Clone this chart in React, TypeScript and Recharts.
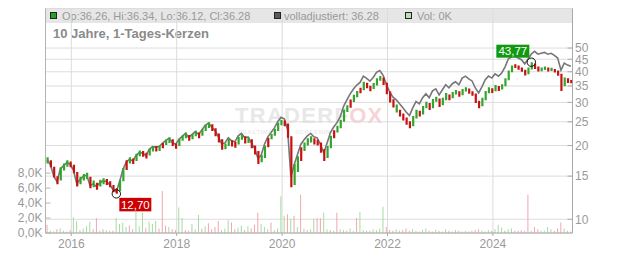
import React from "react";
import { ComposedChart, Bar, Line, XAxis, YAxis, CartesianGrid, Cell, ReferenceDot } from "recharts";

// ---- data ----
const periodStart = 2015.51; // mid 2015
const periodStep = 1 / 16; // one candle ~ 3 weeks
const yearTicks = [2016, 2018, 2020, 2022, 2024];
const priceTicks = [10, 15, 20, 25, 30, 35, 40, 45, 50];
const volumeTicks = [0, 2000, 4000, 6000, 8000];

const lows = [
  16.9, 16.3, 14.8, 13.9, 14.4, 15.8, 16.4, 16.3, 15.4, 13.6,
  13.9, 14.4, 14.6, 13.4, 13.5, 13.2, 13.6, 13.9, 13.8, 13.5,
  12.9, 12.7, 13.0, 14.3, 15.9, 16.9, 16.8, 17.3, 18.1, 18.0,
  17.7, 18.2, 18.9, 18.9, 19.0, 19.5, 20.1, 20.5, 19.9, 19.4,
  19.9, 20.9, 21.4, 20.9, 21.2, 21.8, 21.4, 21.9, 22.9, 23.6,
  22.9, 21.8, 20.6, 19.2, 19.3, 19.9, 19.8, 19.6, 20.2, 21.1,
  20.4, 20.5, 19.5, 18.4, 16.8, 17.1, 17.8, 19.7, 21.2, 21.9,
  22.9, 24.2, 24.0, 21.5, 13.5, 13.8, 15.6, 17.3, 19.0, 20.0,
  20.6, 20.2, 20.0, 18.7, 17.3, 17.8, 19.5, 21.4, 22.6, 23.5,
  25.0, 27.4, 28.5, 30.1, 31.5, 32.7, 33.6, 34.3, 33.3, 34.0,
  35.2, 36.8, 35.3, 32.4, 30.0, 28.6, 27.3, 26.3, 25.3, 24.3,
  23.5, 24.0, 25.8, 26.3, 26.8, 28.4, 27.9, 28.4, 30.2, 28.7,
  29.2, 30.6, 30.6, 31.2, 32.3, 31.6, 32.1, 33.2, 32.5, 31.9,
  29.8, 28.4, 28.9, 30.6, 32.7, 32.8, 33.3, 33.4, 33.9, 34.9,
  36.9, 39.8, 41.4, 40.8, 40.0, 38.6, 39.1, 40.9, 41.1, 40.1,
  40.2, 40.7, 40.1, 40.3, 39.7, 38.5, 33.4, 34.9, 36.0, 35.9,
];

const highs = [
  17.9, 17.4, 16.4, 15.0, 16.3, 16.9, 17.4, 17.2, 16.7, 15.6,
  14.9, 15.3, 15.5, 14.9, 14.4, 14.1, 14.5, 14.7, 14.6, 14.3,
  13.8, 13.4, 14.5, 16.2, 17.4, 17.9, 17.7, 18.5, 19.1, 19.0,
  18.7, 19.4, 19.9, 19.9, 20.0, 20.5, 21.1, 21.6, 21.2, 20.4,
  21.3, 22.0, 22.6, 22.1, 22.3, 23.0, 22.6, 23.3, 24.3, 24.9,
  24.4, 23.5, 22.4, 21.2, 20.4, 21.3, 21.0, 20.7, 21.7, 22.2,
  21.8, 21.6, 21.2, 20.0, 19.0, 18.3, 20.0, 21.5, 22.3, 23.4,
  24.8, 25.4, 25.3, 24.6, 21.8, 16.8, 18.1, 19.7, 20.6, 21.4,
  21.8, 21.4, 21.1, 20.6, 19.3, 19.9, 21.9, 23.1, 24.1, 25.5,
  28.0, 29.2, 30.8, 32.2, 33.4, 34.4, 36.4, 36.1, 35.1, 36.0,
  37.6, 38.4, 37.9, 36.1, 33.2, 30.9, 29.4, 28.0, 27.0, 26.0,
  25.1, 26.4, 28.0, 27.7, 29.0, 30.2, 29.8, 31.0, 31.6, 31.1,
  31.3, 32.8, 32.3, 33.1, 33.7, 33.3, 34.0, 34.6, 34.2, 33.3,
  32.6, 30.5, 31.3, 33.4, 34.6, 34.3, 35.3, 35.0, 35.6, 37.6,
  40.5, 42.4, 42.9, 42.4, 41.6, 40.8, 41.6, 43.77, 43.2, 42.0,
  41.6, 42.0, 41.6, 41.5, 41.1, 40.5, 39.3, 37.9, 37.6, 37.0,
];

// g = candle closed up, r = candle closed down
const candleDirs =
  "grrrgggrrr" + "gggrgrggrr" + "rrggrgrggr" + "rggrgrggrr" +
  "gggrggrggg" + "rrrrggrrgg" + "rgrrrggrgg" + "ggrrrggrgg" +
  "grrrrggrgg" + "ggrggrgrrg" + "ggrrrrgrrr" + "rggrggrggr" +
  "ggrggrggrr" + "rrgggrgrgg" + "ggrrrrggrr" + "ggrgrrrgrr";

const adjusted = [
  17.5, 16.7, 15.0, 14.25, 16.05, 16.55, 17.05, 16.75, 15.85, 13.95,
  14.55, 14.95, 15.15, 13.75, 13.95, 13.6, 14.1, 14.35, 14.25, 13.85,
  13.2, 12.95, 14.25, 15.95, 17.1, 17.6, 17.3, 18.2, 18.75, 18.6,
  18.2, 19.3, 19.8, 19.7, 19.8, 20.4, 21.0, 21.4, 20.6, 20.2,
  21.2, 21.8, 22.4, 21.6, 22.2, 22.8, 22.2, 23.2, 24.2, 24.7,
  23.75, 23.0, 21.7, 20.3, 20.5, 21.5, 20.9, 20.7, 21.9, 22.4,
  21.5, 21.7, 20.5, 19.5, 17.7, 18.3, 20.3, 21.7, 22.6, 23.6,
  25.0, 26.1, 25.7, 23.2, 14.9, 16.7, 18.4, 20.2, 21.1, 21.9,
  22.4, 21.7, 21.5, 20.2, 18.7, 20.5, 22.6, 23.8, 24.8, 26.25,
  28.9, 30.7, 32.5, 34.0, 35.3, 36.2, 38.4, 37.6, 36.6, 37.9,
  39.8, 40.5, 38.7, 35.6, 33.0, 31.5, 30.7, 29.6, 28.5, 27.4,
  26.5, 28.5, 30.25, 29.6, 31.35, 32.55, 31.35, 33.45, 34.1, 32.2,
  33.8, 35.4, 34.4, 35.75, 36.4, 35.4, 37.7, 38.4, 37.4, 36.7,
  34.35, 32.8, 34.7, 37.1, 38.4, 37.7, 39.2, 38.4, 39.55, 41.8,
  45.1, 46.0, 46.4, 45.5, 44.8, 43.1, 45.1, 47.3, 48.5, 47.2,
  47.6, 48.0, 47.2, 47.6, 46.7, 45.5, 40.6, 43.4, 42.6, 42.1,
];

// volume in thousands
const volumesK = [
  1.1, 0.3, 0.2, 0.5, 0.6, 0.3, 0.2, 0.4, 2.1, 1.6,
  0.4, 0.6, 0.9, 1.5, 0.5, 2.0, 0.3, 0.5, 0.4, 0.3,
  0.3, 2.0, 1.2, 1.4, 0.8, 1.0, 0.5, 2.8, 0.9, 2.7,
  0.7, 1.5, 1.2, 1.6, 0.6, 5.6, 1.0, 0.8, 0.5, 0.4,
  3.4, 2.0, 0.4, 0.3, 1.2, 0.5, 2.4, 0.6, 0.9, 1.3,
  0.5, 0.8, 1.6, 0.4, 0.6, 1.7, 1.4, 0.5, 0.7, 1.0,
  0.4, 0.9, 0.6, 1.1, 2.7, 1.2, 0.8, 0.5, 1.4, 0.4,
  0.6, 4.9, 2.3, 2.5, 1.9, 2.3, 0.8, 5.1, 0.6, 0.4,
  0.5, 1.9, 2.0, 2.0, 2.7, 0.5, 0.4, 0.3, 2.7, 0.5,
  0.4, 0.3, 0.6, 0.3, 2.0, 2.8, 0.4, 0.3, 0.3, 0.5,
  0.4, 0.6, 3.5, 0.8, 0.4, 0.3, 0.5, 0.3, 0.4, 0.6,
  0.3, 0.5, 0.3, 0.2, 0.4, 0.6, 0.3, 0.2, 0.4, 0.3,
  0.2, 0.5, 0.3, 0.2, 0.4, 0.3, 0.2, 0.3, 0.2, 0.3,
  0.4, 0.5, 0.3, 0.2, 0.4, 0.3, 0.5, 1.1, 0.7, 0.3,
  0.5, 0.6, 0.3, 0.3, 0.4, 0.3, 5.1, 0.3, 0.8, 0.5,
  0.3, 0.3, 0.8, 0.5, 0.3, 0.6, 1.4, 0.6, 0.3, 0.2,
];

const volumeDirs =
  "rgrrgggrgg" + "rgggrrgrgr" + "rggggrrggg" + "rgggrrrgrr" +
  "ggrrgggrgr" + "rrrgggrrgg" + "rgrrrgggrg" + "gggrgrgrgr" +
  "ggrrggrgrg" + "grggrggrrg" + "gggrrrgrrr" + "rggrggrggr" +
  "ggrggrggrr" + "rrgggrgggr" + "ggrrrrrgrr" + "ggggrrrgrg";

const headerText = {
  ohlc: "Op:36.26, Hi:36.34, Lo:36.12, Cl:36.28",
  adjusted: "volladjustiert: 36.28",
  volume: "Vol: 0K",
  title: "10 Jahre, 1-Tages-Kerzen",
};

// ---- chart setup ----
const W = 632;
const H = 253;
const X_DOMAIN: [number, number] = [2015.51, 2025.51];
const PRICE_DOMAIN: [number, number] = [8.79, 72.5];
const VOL_DOMAIN: [number, number] = [0, 30000];
const FONT = "'Liberation Sans', Arial, Helvetica, sans-serif";

const rows = lows.map((lo, i) => ({
  t: periodStart + (i + 0.5) * periodStep,
  range: [lo, highs[i]],
  adj: adjusted[i],
  vol: volumesK[i] * 1000,
}));

let minIdx = 0;
let maxIdx = 0;
lows.forEach((v, i) => { if (v < lows[minIdx]) minIdx = i; });
highs.forEach((v, i) => { if (v > highs[maxIdx]) maxIdx = i; });
const fmt = (v: number) => v.toFixed(2).replace(".", ",");

const tickStyle = { fill: "#9a9a9a", fontSize: 12, fontFamily: FONT };

const MinShape = (p: any) => (
  <g>
    <circle cx={p.cx} cy={p.cy} r={4.2} fill="none" stroke="#111" strokeWidth={1} />
    <rect x={p.cx + 3} y={p.cy + 4} width={32} height={13.5} fill="#cc0000" />
    <text x={p.cx + 19} y={p.cy + 15} fill="#fff" fontSize={11.5} fontFamily={FONT} textAnchor="middle">
      {fmt(lows[minIdx])}
    </text>
  </g>
);

const MaxShape = (p: any) => (
  <g>
    <circle cx={p.cx} cy={p.cy} r={4.2} fill="none" stroke="#111" strokeWidth={1} />
    <rect x={p.cx - 35} y={p.cy - 17.5} width={33} height={13} fill="#119a11" />
    <text x={p.cx - 18.5} y={p.cy - 6.8} fill="#fff" fontSize={11.5} fontFamily={FONT} textAnchor="middle">
      {fmt(highs[maxIdx])}
    </text>
  </g>
);

export default function App() {
  const layer: React.CSSProperties = { position: "absolute", left: 0, top: 0 };
  return (
    <div style={{ position: "absolute", left: 0, top: 0, width: W, height: H, fontFamily: FONT, background: "#fff" }}>
      {/* header band, legend, title, watermark */}
      <svg width={W} height={H} style={layer}>
        <rect x={45.5} y={8.5} width={527} height={14.5} fill="#e6e6e6" />
        <line x1={45.5} x2={572.5} y1={8.5} y2={8.5} stroke="#c4c4c4" />
        <rect x={50.5} y={12.5} width={6} height={6} fill="#22a322" stroke="#222" />
        <text x={62} y={20} fontSize={11} fill="#999" fontFamily={FONT}>{headerText.ohlc}</text>
        <rect x={274.5} y={12.5} width={6} height={6} fill="#5a5a5a" stroke="#222" />
        <text x={284} y={20} fontSize={11} fill="#999" fontFamily={FONT}>{headerText.adjusted}</text>
        <rect x={405.5} y={12.5} width={6} height={6} fill="#b4e2b4" stroke="#222" />
        <text x={417} y={20} fontSize={11} fill="#999" fontFamily={FONT}>{headerText.volume}</text>
        <text x={53} y={38} fontSize={13} fontWeight="bold" fill="#8a8a8a" fontFamily={FONT}>{headerText.title}</text>
        <text x={235} y={122.5} fontSize={22} fontWeight="bold" letterSpacing={1.3} fontFamily={FONT}>
          <tspan fill="#e8e8e8">TRADERF</tspan>
          <tspan fill="#f8d3d6">OX</tspan>
        </text>
        <text x={238} y={134} fontSize={6} fontWeight="bold" fill="#ececec" fontFamily={FONT} letterSpacing={0.6}>REALTIME</text>
        <text x={295} y={134} fontSize={6} fontWeight="bold" fill="#ececec" fontFamily={FONT} letterSpacing={0.6}>SCREENING</text>
      </svg>

      {/* grid, axes, volume, adjusted line */}
      <div style={layer}>
        <ComposedChart width={W} height={H} data={rows} margin={{ top: 8.5, right: 0, bottom: 0, left: 0 }}>
          <CartesianGrid yAxisId="price" stroke="#dcdcdc" />
          <XAxis
            dataKey="t"
            type="number"
            domain={X_DOMAIN}
            ticks={yearTicks}
            interval={0}
            allowDataOverflow
            height={20}
            tickSize={3}
            tickMargin={3.5}
            stroke="#aaa"
            tick={tickStyle}
          />
          <YAxis
            yAxisId="vol"
            orientation="left"
            domain={VOL_DOMAIN}
            ticks={volumeTicks}
            interval={0}
            allowDataOverflow
            width={45.5}
            tickSize={-5}
            tickMargin={8}
            stroke="#b4b4b4"
            tick={tickStyle}
            tickFormatter={(v: number) => (v / 1000).toFixed(1).replace(".", ",") + "K"}
          />
          <YAxis
            yAxisId="price"
            orientation="right"
            scale="log"
            domain={PRICE_DOMAIN}
            ticks={priceTicks}
            interval={0}
            allowDataOverflow
            width={59.5}
            tickSize={-5}
            tickMargin={7.5}
            stroke="#aaa"
            tick={tickStyle}
          />
          <Bar yAxisId="vol" dataKey="vol" barSize={1} isAnimationActive={false}>
            {rows.map((_, i) => (
              <Cell key={i} fill={volumeDirs[i] === "g" ? "#a6dba3" : "#f2a6ad"} />
            ))}
          </Bar>
          <Line
            yAxisId="price"
            dataKey="adj"
            stroke="#777"
            strokeWidth={1.6}
            dot={false}
            isAnimationActive={false}
          />
        </ComposedChart>
      </div>

      {/* candles and min/max markers */}
      <div style={layer}>
        <ComposedChart width={W} height={H} data={rows} margin={{ top: 8.5, right: 59.5, bottom: 20, left: 45.5 }}>
          <XAxis dataKey="t" type="number" domain={X_DOMAIN} hide allowDataOverflow />
          <YAxis yAxisId="price" scale="log" domain={PRICE_DOMAIN} hide allowDataOverflow />
          <Bar yAxisId="price" dataKey="range" barSize={2.2} isAnimationActive={false}>
            {rows.map((_, i) => (
              <Cell key={i} fill={candleDirs[i] === "g" ? "#34a52c" : "#c81212"} />
            ))}
          </Bar>
          <ReferenceDot yAxisId="price" x={rows[minIdx].t} y={lows[minIdx]} r={4} shape={MinShape} />
          <ReferenceDot yAxisId="price" x={rows[maxIdx].t} y={highs[maxIdx]} r={4} shape={MaxShape} />
        </ComposedChart>
      </div>
    </div>
  );
}
